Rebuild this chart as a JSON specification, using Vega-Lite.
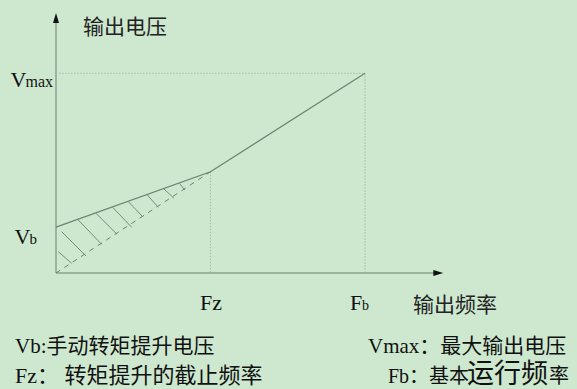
{
  "$schema": "https://vega.github.io/schema/vega-lite/v6.json",
  "width": 577,
  "height": 389,
  "autosize": {"type": "none"},
  "padding": 0,
  "background": "#cde8cf",
  "config": {"view": {"stroke": null}},
  "datasets": {
    "curve": [{"f": 0, "v": 23}, {"f": 25, "v": 50.7}, {"f": 50, "v": 100}],
    "guides": [
      {"f": 0.5, "v": 100, "f2": 50, "v2": 100},
      {"f": 50, "v": 100, "f2": 50, "v2": 0},
      {"f": 25, "v": 50.7, "f2": 25, "v2": 0}
    ],
    "dashed": [{"f": 0, "v": 0, "f2": 25, "v2": 50.7}],
    "hatch": [
      {"f": 0.37, "v": 10.67, "f2": 2.54, "v2": 4.86},
      {"f": 0.92, "v": 20.68, "f2": 4.85, "v2": 8.51},
      {"f": 3.45, "v": 27.04, "f2": 7.39, "v2": 14.37},
      {"f": 6.47, "v": 29.89, "f2": 9.82, "v2": 19.53},
      {"f": 9.17, "v": 32.9, "f2": 12.25, "v2": 22.88},
      {"f": 11.7, "v": 35.7, "f2": 14.03, "v2": 28.19},
      {"f": 14.68, "v": 39.41, "f2": 16.55, "v2": 32.9},
      {"f": 17.48, "v": 42.06, "f2": 19.09, "v2": 37.41},
      {"f": 19.95, "v": 44.92, "f2": 20.87, "v2": 41.56}
    ],
    "axes": [
      {"f": 0, "v": 0, "f2": 0, "v2": 127},
      {"f": 0, "v": 0, "f2": 61.5, "v2": 0}
    ],
    "arrowUp": [{"f": 0, "v": 127.7}],
    "arrowRight": [{"f": 61.86, "v": 0}],
    "bigLetters": [
      {"f": -7.36, "v": 93.3, "text": "V"},
      {"f": -6.72, "v": 14.37, "text": "V"},
      {"f": 23.3, "v": -18.53, "text": "Fz"},
      {"f": 47.57, "v": -18.53, "text": "F"}
    ],
    "subMax": [{"f": -4.94, "v": 93.3, "text": "max"}],
    "subB": [{"f": -4.29, "v": 14.37, "text": "b"}],
    "subB2": [{"f": 49.51, "v": -18.53, "text": "b"}],
    "axisTitles": [
      {"f": 57.77, "v": -19.28, "text": "输出频率"},
      {"f": 4.37, "v": 119.7, "text": "输出电压"}
    ],
    "notes": [
      {"f": -6.63, "v": -40.06, "text": "Vb:手动转矩提升电压"},
      {"f": 50.49, "v": -40.06, "text": "Vmax：最大输出电压"}
    ],
    "notesWide": [
      {"f": -6.63, "v": -55.08, "text": "Fz： 转矩提升的截止频率"}
    ],
    "notesSmall": [
      {"f": 53.72, "v": -55.08, "text": "Fb：基本"},
      {"f": 79.77, "v": -55.08, "text": "率"}
    ],
    "notesBig": [{"f": 66.5, "v": -55.08, "text": "运行频"}]
  },
  "encoding": {
    "x": {"field": "f", "type": "quantitative", "axis": null, "scale": {"domain": [0, 50], "range": [56, 365], "nice": false, "zero": false}},
    "y": {"field": "v", "type": "quantitative", "axis": null, "scale": {"domain": [0, 100], "range": [273, 73.3], "nice": false, "zero": false}}
  },
  "layer": [
    {
      "data": {"name": "guides"},
      "mark": {"type": "rule", "color": "#a3bca5", "strokeWidth": 1, "strokeDash": [1.5, 1.5]},
      "encoding": {"x2": {"field": "f2"}, "y2": {"field": "v2"}}
    },
    {
      "data": {"name": "axes"},
      "mark": {"type": "rule", "color": "#8ba28c", "strokeWidth": 1.5},
      "encoding": {"x2": {"field": "f2"}, "y2": {"field": "v2"}}
    },
    {
      "data": {"name": "dashed"},
      "mark": {"type": "rule", "color": "#6f806f", "strokeWidth": 1, "strokeDash": [5, 5]},
      "encoding": {"x2": {"field": "f2"}, "y2": {"field": "v2"}}
    },
    {
      "data": {"name": "hatch"},
      "mark": {"type": "rule", "color": "#6f806f", "strokeWidth": 0.9},
      "encoding": {"x2": {"field": "f2"}, "y2": {"field": "v2"}}
    },
    {
      "data": {"name": "curve"},
      "mark": {"type": "line", "color": "#6f806f", "strokeWidth": 1.2},
      "encoding": {}
    },
    {
      "data": {"name": "arrowUp"},
      "mark": {"type": "point", "shape": "M0,-1L0.6,1L-0.6,1Z", "size": 100, "filled": true, "color": "#111111", "opacity": 1, "strokeWidth": 0}
    },
    {
      "data": {"name": "arrowRight"},
      "mark": {"type": "point", "shape": "M1,0L-1,-0.6L-1,0.6Z", "size": 100, "filled": true, "color": "#111111", "opacity": 1, "strokeWidth": 0}
    },
    {
      "data": {"name": "bigLetters"},
      "mark": {"type": "text", "align": "left", "baseline": "alphabetic", "font": "Liberation Serif", "fontSize": 22, "color": "#111111"},
      "encoding": {"text": {"field": "text"}}
    },
    {
      "data": {"name": "subMax"},
      "mark": {"type": "text", "align": "left", "baseline": "alphabetic", "font": "Liberation Serif", "fontSize": 16, "color": "#111111"},
      "encoding": {"text": {"field": "text"}}
    },
    {
      "data": {"name": "subB"},
      "mark": {"type": "text", "align": "left", "baseline": "alphabetic", "font": "Liberation Serif", "fontSize": 15, "color": "#111111"},
      "encoding": {"text": {"field": "text"}}
    },
    {
      "data": {"name": "subB2"},
      "mark": {"type": "text", "align": "left", "baseline": "alphabetic", "font": "Liberation Serif", "fontSize": 14, "color": "#111111"},
      "encoding": {"text": {"field": "text"}}
    },
    {
      "data": {"name": "axisTitles"},
      "mark": {"type": "text", "align": "left", "baseline": "alphabetic", "font": "Liberation Serif, Noto Sans CJK SC", "fontSize": 21, "color": "#222222"},
      "encoding": {"text": {"field": "text"}}
    },
    {
      "data": {"name": "notes"},
      "mark": {"type": "text", "align": "left", "baseline": "alphabetic", "font": "Liberation Serif, Noto Sans CJK SC", "fontSize": 21, "color": "#111111"},
      "encoding": {"text": {"field": "text"}}
    },
    {
      "data": {"name": "notesWide"},
      "mark": {"type": "text", "align": "left", "baseline": "alphabetic", "font": "Liberation Serif, Noto Sans CJK SC", "fontSize": 22, "color": "#111111"},
      "encoding": {"text": {"field": "text"}}
    },
    {
      "data": {"name": "notesSmall"},
      "mark": {"type": "text", "align": "left", "baseline": "alphabetic", "font": "Liberation Serif, Noto Sans CJK SC", "fontSize": 20, "color": "#111111"},
      "encoding": {"text": {"field": "text"}}
    },
    {
      "data": {"name": "notesBig"},
      "mark": {"type": "text", "align": "left", "baseline": "alphabetic", "font": "Liberation Serif, Noto Sans CJK SC", "fontSize": 27, "color": "#111111"},
      "encoding": {"text": {"field": "text"}}
    }
  ]
}
